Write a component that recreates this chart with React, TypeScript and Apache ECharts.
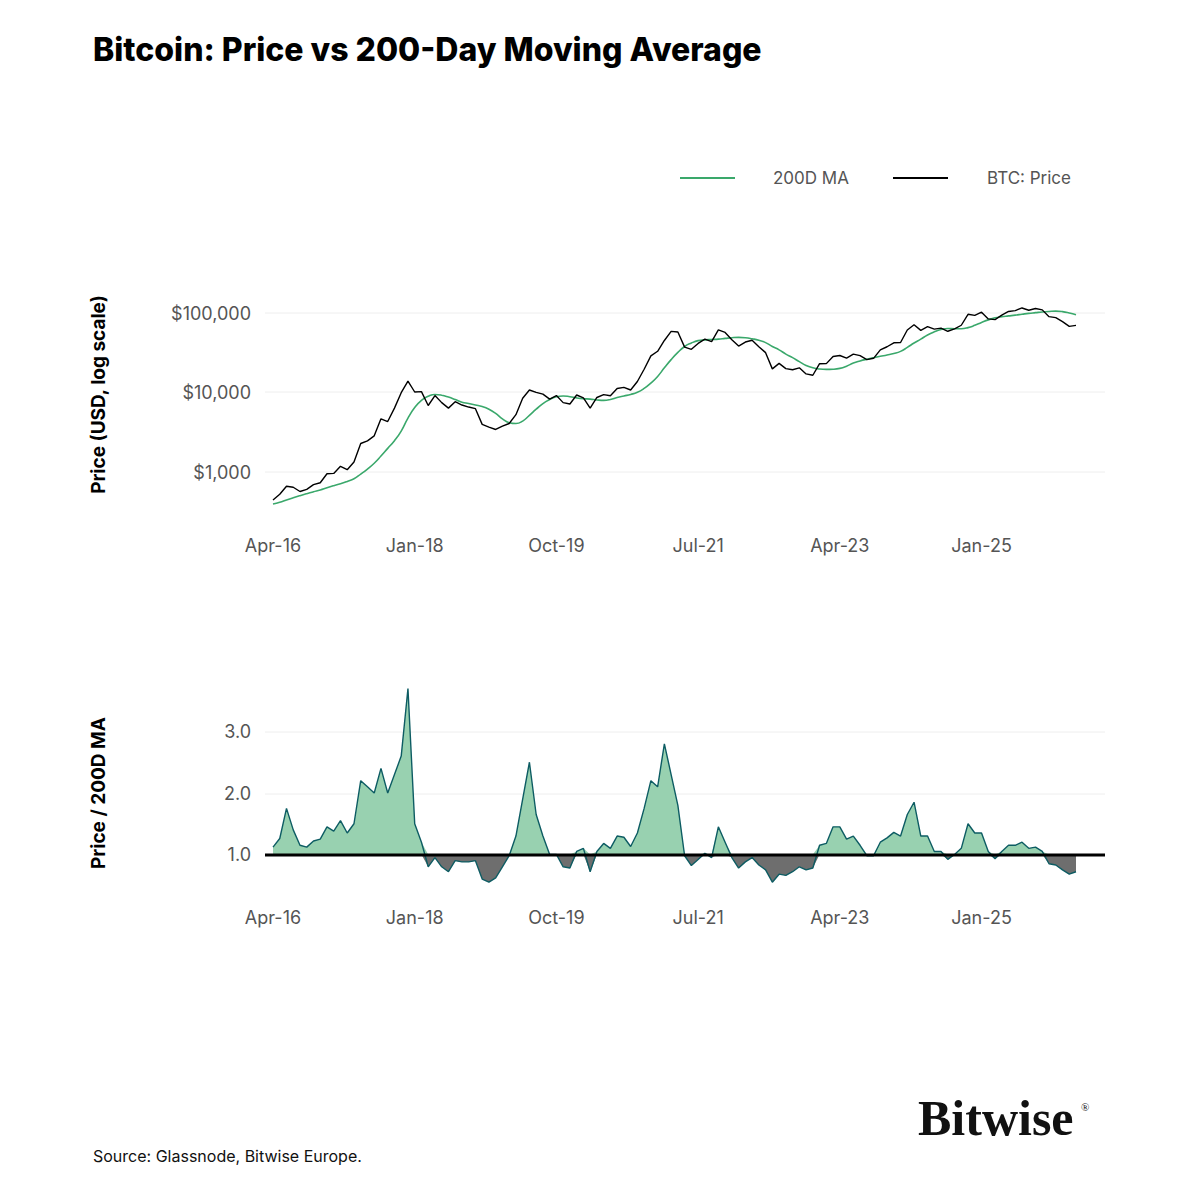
import { useEffect, useRef } from "react";
import * as echarts from "echarts";

const monthNames = ["Jan", "Feb", "Mar", "Apr", "May", "Jun", "Jul", "Aug", "Sep", "Oct", "Nov", "Dec"];

const months: string[] = [];
for (let i = 0; i < 120; i++) {
  const m = (3 + i) % 12;
  const y = 16 + Math.floor((3 + i) / 12);
  months.push(`${monthNames[m]}-${y}`);
}

const tickLabels = ["Apr-16", "Jan-18", "Oct-19", "Jul-21", "Apr-23", "Jan-25"];

const btcPrice = [
  450, 530, 670, 650, 575, 610, 700, 740, 960,
  970, 1190, 1080, 1350, 2300, 2480, 2870, 4700, 4340, 6400, 10000, 14000,
  10200, 10300, 6900, 9200, 7500, 6400, 7700, 7000, 6600, 6300, 4000, 3700,
  3450, 3800, 4100, 5300, 8500, 10800, 10100, 9600, 8300, 9200, 7500, 7200,
  9350, 8600, 6400, 8700, 9450, 9150, 11300, 11650, 10800, 13800, 19700, 29000,
  33100, 45200, 58800, 57700, 37300, 35000, 41500, 47100, 43800, 61300, 57000, 46300,
  38500, 43200, 45500, 37700, 31800, 19900, 23300, 20050, 19400, 20500, 17200, 16550,
  23100, 23150, 28500, 29300, 27200, 30500, 29200, 26000, 27000, 34500, 37700, 42300,
  42600, 61200, 71300, 60600, 67500, 62700, 64600, 59000, 63300, 70200, 96400, 93400,
  102400, 84300, 82500, 94200, 104600, 107100, 115700, 108200, 114000, 109500, 90000, 87500,
  78000, 68000, 70000,
];

const ma200 = [
  400, 420, 450, 480, 510, 540, 570, 600, 640,
  680, 720, 770, 830, 950, 1100, 1300, 1600, 2000, 2500, 3300, 4800,
  6500, 8000, 9000, 9500, 9300, 8800, 8200, 7600, 7300, 7000, 6700, 6200,
  5500, 4700, 4200, 4100, 4400, 5200, 6200, 7300, 8200, 8900, 9100, 8900,
  8600, 8400, 8300, 8100, 8000, 8200, 8700, 9100, 9500, 10100, 11300, 13200,
  16000, 20500, 26000, 32000, 38000, 42000, 45000, 46000, 46500, 47000, 48000, 49000,
  49500, 49000, 47500, 45500, 42500, 38000, 34500, 30500, 27500, 24500, 22000, 20500,
  19800, 19600, 19700, 20200, 21500, 23500, 25000, 26300, 27500, 28600, 29700, 31000,
  33000, 37000, 42000, 47000, 53000, 58000, 62000, 64000, 63500, 63500, 65500, 70000,
  76000, 82000, 87000, 90000, 92000, 94000, 96500, 99000, 101000, 103000, 104500, 105500,
  104000, 100000, 95000,
];

const ratio = [
  1.12, 1.26, 1.75, 1.4, 1.15, 1.12, 1.22, 1.25, 1.45,
  1.38, 1.55, 1.35, 1.5, 2.2, 2.1, 2.0, 2.4, 2.0, 2.3, 2.6, 3.7,
  1.5, 1.2, 0.8, 0.95, 0.8, 0.72, 0.9, 0.88, 0.88, 0.9, 0.6, 0.55,
  0.62, 0.8, 0.98, 1.3, 1.9, 2.5, 1.65, 1.3, 1.0, 1.0, 0.8, 0.78,
  1.05, 1.1, 0.72, 1.05, 1.18, 1.1, 1.3, 1.28, 1.13, 1.35, 1.75, 2.2,
  2.1, 2.8, 2.3, 1.8, 0.98, 0.82, 0.92, 1.02, 0.95, 1.45, 1.2, 0.95,
  0.78, 0.88, 0.95, 0.83, 0.75, 0.55, 0.68, 0.66, 0.72, 0.8, 0.75, 0.78,
  1.15, 1.18, 1.45, 1.45, 1.25, 1.3, 1.15, 0.98, 0.98, 1.2, 1.27, 1.36,
  1.3, 1.65, 1.85, 1.3, 1.3, 1.05, 1.05, 0.92, 1.0, 1.1, 1.5, 1.35,
  1.35, 1.05, 0.93, 1.05, 1.15, 1.15, 1.2, 1.1, 1.12, 1.05, 0.85, 0.83,
  0.75, 0.68, 0.72,
];

const FONT = "Inter, 'Noto Sans', sans-serif";
const GREEN = "#3aa86b";

const xAxisBase = (gridIndex: number, margin: number) => ({
  type: "category" as const,
  gridIndex,
  data: months,
  boundaryGap: false,
  axisLine: { show: false },
  axisTick: { show: false },
  axisLabel: {
    color: "#555",
    fontSize: 18,
    fontFamily: FONT,
    margin,
    interval: (_i: number, v: string) => tickLabels.includes(v),
  },
  splitLine: { show: false },
});

export default function App() {
  const ref = useRef<HTMLDivElement>(null);

  useEffect(() => {
    if (!ref.current) return;
    const chart = echarts.init(ref.current, null, { renderer: "svg" });
    chart.setOption({
      animation: false,
      backgroundColor: "#fff",
      title: {
        text: "Bitcoin: Price vs 200-Day Moving Average",
        left: 88,
        top: 28,
        textStyle: { fontFamily: FONT, fontWeight: 800, fontSize: 32, color: "#000" },
      },
      graphic: [
        { type: "line", shape: { x1: 680, y1: 178, x2: 735, y2: 178 }, style: { stroke: GREEN, lineWidth: 2 } },
        { type: "text", x: 773, y: 178, style: { text: "200D MA", fill: "#555", font: `17px ${FONT}`, textVerticalAlign: "middle" } },
        { type: "line", shape: { x1: 893, y1: 178, x2: 948, y2: 178 }, style: { stroke: "#000", lineWidth: 2 } },
        { type: "text", x: 987, y: 178, style: { text: "BTC: Price", fill: "#555", font: `17px ${FONT}`, textVerticalAlign: "middle" } },
        // grid lines extended to the full panel width
        { type: "line", shape: { x1: 265, y1: 313, x2: 1105, y2: 313 }, style: { stroke: "#eee", lineWidth: 1 } },
        { type: "line", shape: { x1: 265, y1: 392, x2: 1105, y2: 392 }, style: { stroke: "#eee", lineWidth: 1 } },
        { type: "line", shape: { x1: 265, y1: 472, x2: 1105, y2: 472 }, style: { stroke: "#eee", lineWidth: 1 } },
        { type: "line", shape: { x1: 265, y1: 732, x2: 1105, y2: 732 }, style: { stroke: "#eee", lineWidth: 1 } },
        { type: "line", shape: { x1: 265, y1: 794, x2: 1105, y2: 794 }, style: { stroke: "#eee", lineWidth: 1 } },
        { type: "line", z: 10, shape: { x1: 265, y1: 855, x2: 1105, y2: 855 }, style: { stroke: "#000", lineWidth: 3 } },
        { type: "text", x: 918, y: 1093, style: { text: "Bitwise", fill: "#111", font: "bold 50px 'Liberation Serif', serif" } },
        { type: "text", x: 1081, y: 1101, style: { text: "®", fill: "#111", font: "11px 'Liberation Serif', serif" } },
        { type: "text", x: 93, y: 1148, style: { text: "Source: Glassnode, Bitwise Europe.", fill: "#111", font: `16px ${FONT}` } },
      ],
      grid: [
        { left: 273, right: 124, top: 275, height: 239 },
        { left: 273, right: 124, top: 670, height: 246 },
      ],
      xAxis: [xAxisBase(0, 22), xAxisBase(1, -8)],
      yAxis: [
        {
          type: "log",
          gridIndex: 0,
          logBase: 10,
          min: 300,
          max: 300000,
          name: "Price (USD, log scale)",
          nameLocation: "middle",
          nameGap: 165,
          nameTextStyle: { fontFamily: FONT, fontWeight: "bold", fontSize: 19, color: "#000" },
          axisLine: { show: false },
          axisTick: { show: false },
          axisLabel: {
            color: "#555",
            fontSize: 18,
            fontFamily: FONT,
            margin: 22,
            formatter: (v: number) => {
              const l = Math.log10(v);
              if (Math.abs(l - Math.round(l)) > 1e-6) return "";
              return "$" + Math.round(v).toLocaleString("en-US");
            },
          },
          splitLine: { show: false },
        },
        {
          type: "value",
          gridIndex: 1,
          min: 0,
          max: 4,
          interval: 1,
          name: "Price / 200D MA",
          nameLocation: "middle",
          nameGap: 165,
          nameTextStyle: { fontFamily: FONT, fontWeight: "bold", fontSize: 19, color: "#000" },
          axisLine: { show: false },
          axisTick: { show: false },
          axisLabel: {
            color: "#555",
            fontSize: 18,
            fontFamily: FONT,
            margin: 22,
            formatter: (v: number) => (v === 0 || v === 4 ? "" : v.toFixed(1)),
          },
          splitLine: { show: false },
        },
      ],
      series: [
        {
          type: "line",
          xAxisIndex: 0,
          yAxisIndex: 0,
          data: ma200,
          smooth: true,
          showSymbol: false,
          lineStyle: { color: GREEN, width: 1.6 },
        },
        {
          type: "line",
          xAxisIndex: 0,
          yAxisIndex: 0,
          data: btcPrice,
          showSymbol: false,
          lineStyle: { color: "#000", width: 1.4 },
        },
        {
          type: "line",
          xAxisIndex: 1,
          yAxisIndex: 1,
          data: ratio.map((r) => Math.max(r, 1)),
          showSymbol: false,
          lineStyle: { width: 0 },
          areaStyle: { color: "#98d1b0", opacity: 1, origin: 1 },
        },
        {
          type: "line",
          xAxisIndex: 1,
          yAxisIndex: 1,
          data: ratio.map((r) => Math.min(r, 1)),
          showSymbol: false,
          lineStyle: { width: 0 },
          areaStyle: { color: "#6e6e6e", opacity: 1, origin: 1 },
        },
        {
          type: "line",
          xAxisIndex: 1,
          yAxisIndex: 1,
          data: ratio,
          showSymbol: false,
          lineStyle: { color: "#0d5c63", width: 1.4 },
        },
      ],
    });
    return () => chart.dispose();
  }, []);

  return <div ref={ref} style={{ position: "absolute", left: 0, top: 0, width: 1200, height: 1200 }} />;
}
